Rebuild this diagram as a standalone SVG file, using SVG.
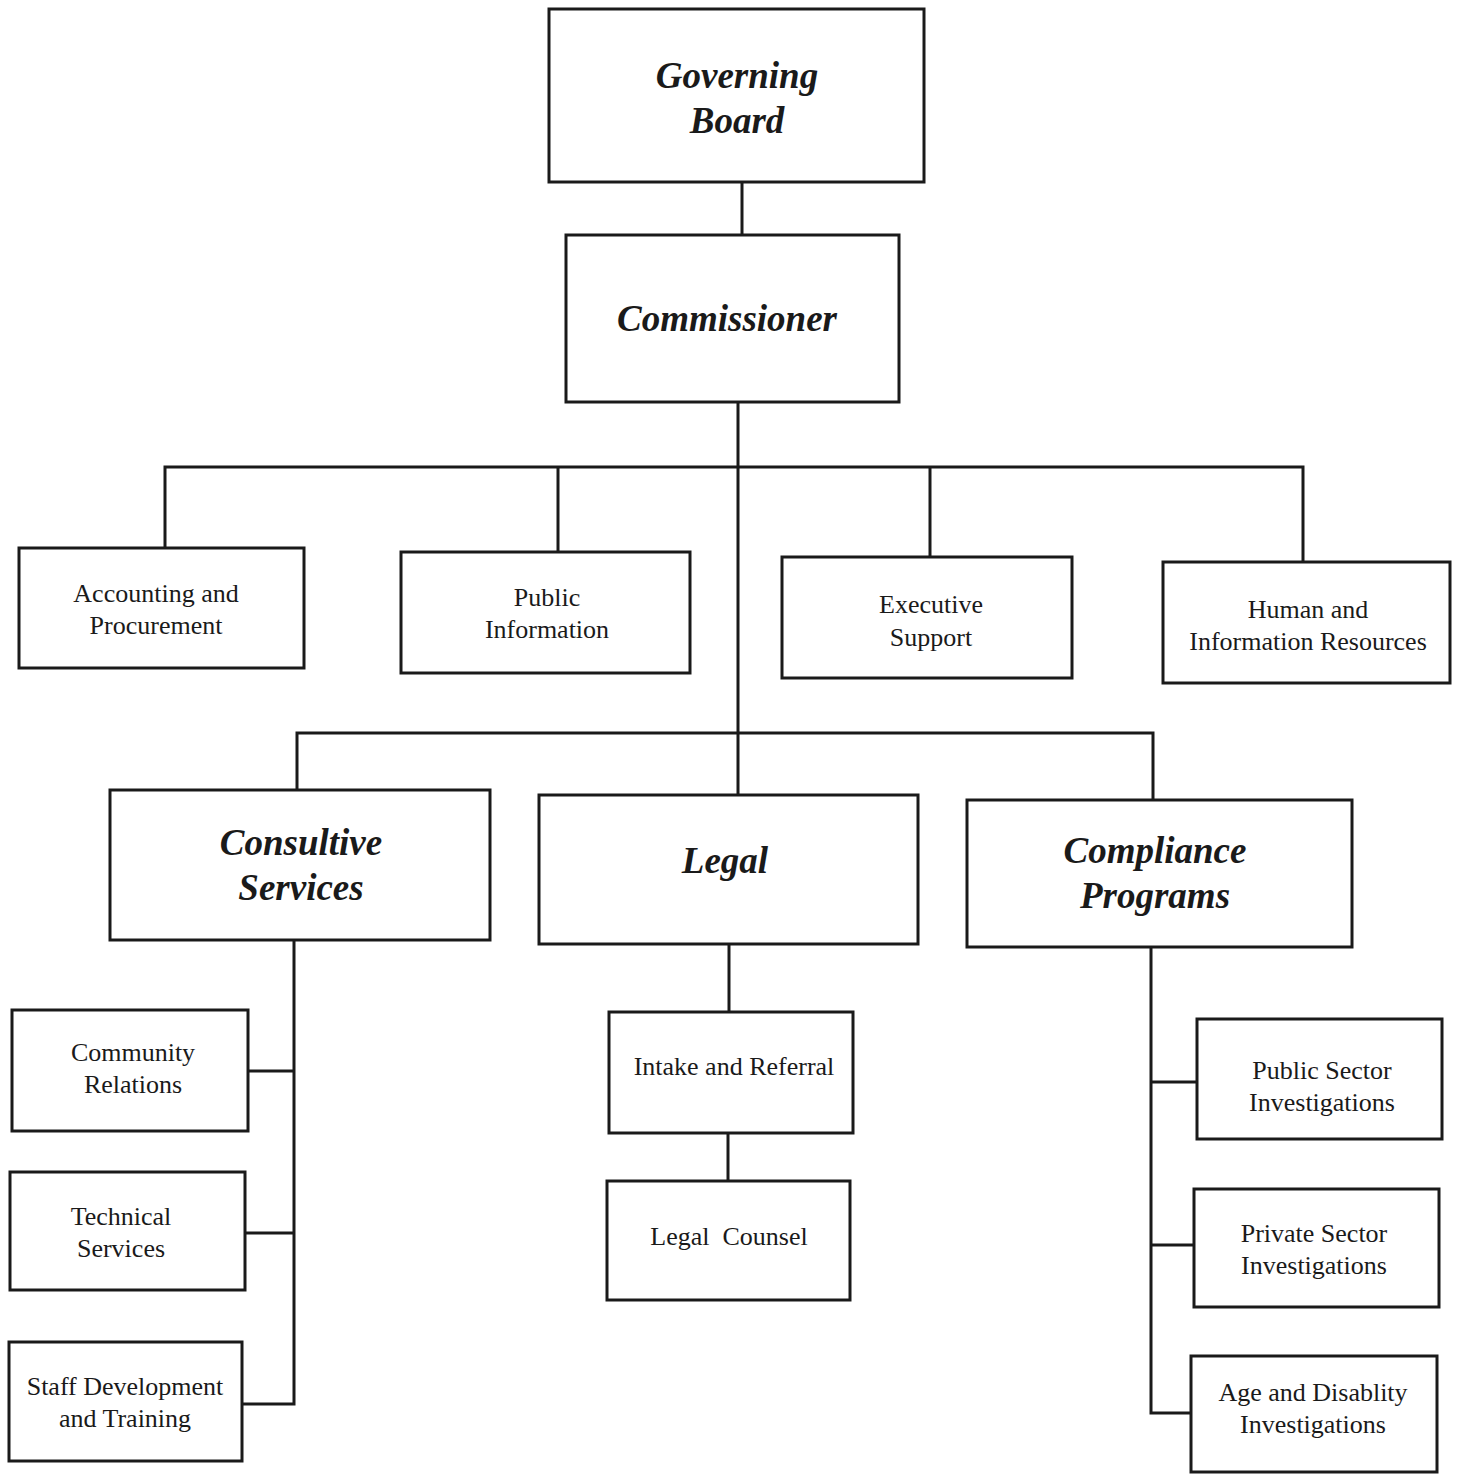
<svg xmlns="http://www.w3.org/2000/svg" width="1458" height="1474" viewBox="0 0 1458 1474">
<style>
.box{fill:#fff;stroke:#1a1a1a;stroke-width:3}
.ln{fill:none;stroke:#1a1a1a;stroke-width:3}
.big{font-family:"Liberation Serif",serif;font-weight:bold;font-style:italic;font-size:37px;fill:#1a1a1a;text-anchor:middle}
.sm{font-family:"Liberation Serif",serif;font-size:26px;fill:#1a1a1a;text-anchor:middle;white-space:pre}
</style>
<rect width="1458" height="1474" fill="#fff"/>
<g id="connectors">
<path class="ln" d="M742 182V234"/>
<path class="ln" d="M738 402V795"/>
<path class="ln" d="M165 548V467H1303V562"/>
<path class="ln" d="M558 552V467"/>
<path class="ln" d="M930 557V467"/>
<path class="ln" d="M297 789V733H1153V800"/>
<path class="ln" d="M294 940V1404H242"/>
<path class="ln" d="M248 1071H294"/>
<path class="ln" d="M245 1233H294"/>
<path class="ln" d="M729 944V1012"/>
<path class="ln" d="M728 1133V1181"/>
<path class="ln" d="M1151 947V1413H1191"/>
<path class="ln" d="M1151 1082H1197"/>
<path class="ln" d="M1151 1245H1194"/>
</g>
<g id="governing-board"><rect class="box" x="549" y="9" width="375" height="173"/><text class="big" x="737" y="88">Governing</text><text class="big" x="737" y="133">Board</text></g>
<g id="commissioner"><rect class="box" x="566" y="235" width="333" height="167"/><text class="big" x="727" y="331">Commissioner</text></g>
<g id="accounting"><rect class="box" x="19" y="548" width="285" height="120"/><text class="sm" x="156" y="602">Accounting and</text><text class="sm" x="156" y="634">Procurement</text></g>
<g id="public-information"><rect class="box" x="401" y="552" width="289" height="121"/><text class="sm" x="547" y="606">Public</text><text class="sm" x="547" y="638">Information</text></g>
<g id="executive-support"><rect class="box" x="782" y="557" width="290" height="121"/><text class="sm" x="931" y="613">Executive</text><text class="sm" x="931" y="646">Support</text></g>
<g id="human-info"><rect class="box" x="1163" y="562" width="287" height="121"/><text class="sm" x="1308" y="618">Human and</text><text class="sm" x="1308" y="650">Information Resources</text></g>
<g id="consultive"><rect class="box" x="110" y="790" width="380" height="150"/><text class="big" x="301" y="855">Consultive</text><text class="big" x="301" y="900">Services</text></g>
<g id="legal"><rect class="box" x="539" y="795" width="379" height="149"/><text class="big" x="725" y="873">Legal</text></g>
<g id="compliance"><rect class="box" x="967" y="800" width="385" height="147"/><text class="big" x="1155" y="863">Compliance</text><text class="big" x="1155" y="908">Programs</text></g>
<g id="community"><rect class="box" x="12" y="1010" width="236" height="121"/><text class="sm" x="133" y="1061">Community</text><text class="sm" x="133" y="1093">Relations</text></g>
<g id="technical"><rect class="box" x="10" y="1172" width="235" height="118"/><text class="sm" x="121" y="1225">Technical</text><text class="sm" x="121" y="1257">Services</text></g>
<g id="staff"><rect class="box" x="9" y="1342" width="233" height="119"/><text class="sm" x="125" y="1395">Staff Development</text><text class="sm" x="125" y="1427">and Training</text></g>
<g id="intake"><rect class="box" x="609" y="1012" width="244" height="121"/><text class="sm" x="734" y="1075">Intake and Referral</text></g>
<g id="legal-counsel"><rect class="box" x="607" y="1181" width="243" height="119"/><text class="sm" x="729" y="1245">Legal  Counsel</text></g>
<g id="public-sector"><rect class="box" x="1197" y="1019" width="245" height="120"/><text class="sm" x="1322" y="1079">Public Sector</text><text class="sm" x="1322" y="1111">Investigations</text></g>
<g id="private-sector"><rect class="box" x="1194" y="1189" width="245" height="118"/><text class="sm" x="1314" y="1242">Private Sector</text><text class="sm" x="1314" y="1274">Investigations</text></g>
<g id="age-disability"><rect class="box" x="1191" y="1356" width="246" height="116"/><text class="sm" x="1313" y="1401">Age and Disablity</text><text class="sm" x="1313" y="1433">Investigations</text></g>
</svg>
